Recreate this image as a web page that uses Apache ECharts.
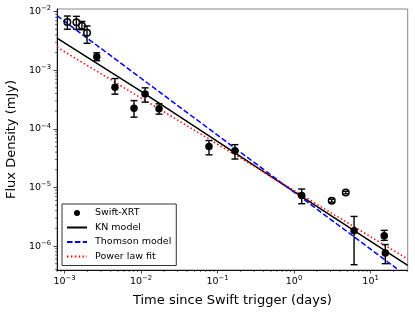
<!DOCTYPE html>
<html>
<head>
<meta charset="utf-8">
<script src="https://cdn.jsdelivr.net/npm/echarts@6/dist/echarts.min.js"></script>
<style>
html,body{margin:0;padding:0;background:#fff;}
#chart{width:415px;height:313px;}
</style>
</head>
<body>
<div id="chart"></div>
<script>
// ---- data ----
// Swift-XRT (filled): time (days), flux (mJy), lower, upper
const xrtTime  = [2.64e-3, 4.57e-3, 8.1e-3, 1.13e-2, 1.72e-2, 7.74e-2, 0.169, 1.26, 6.09, 15.1, 15.6];
const xrtFlux  = [1.70e-3, 5.1e-4, 2.25e-4, 3.94e-4, 2.19e-4, 5.0e-5, 4.22e-5, 7.3e-6, 1.83e-6, 1.5e-6, 7.6e-7];
const xrtLow   = [1.45e-3, 3.9e-4, 1.58e-4, 2.85e-4, 1.78e-4, 3.6e-5, 3.05e-5, 5.27e-6, 4.8e-7, 1.25e-6, 5.0e-7];
const xrtHigh  = [1.98e-3, 7.2e-4, 3.03e-4, 5.0e-4, 2.67e-4, 6.3e-5, 5.37e-5, 9.4e-6, 3.2e-6, 1.85e-6, 1.06e-6];
// open (excluded) points
const openTime = [1.09e-3, 1.43e-3, 1.69e-3, 1.97e-3, 3.11, 4.74];
const openFlux = [6.65e-3, 6.6e-3, 5.75e-3, 4.37e-3, 5.94e-6, 8.2e-6];
const openLow  = [5.0e-3, 5.0e-3, 4.9e-3, 2.88e-3, 5.6e-6, 7.8e-6];
const openHigh = [8.4e-3, 8.3e-3, 6.8e-3, 5.7e-3, 6.3e-6, 8.6e-6];
// model curves
const knTime   = [7.98e-4, 9.7e-3, 1.0, 30.6];
const knFlux   = [3.51e-3, 4.5e-4, 8.5e-6, 4.69e-7];
const thTime   = [7.98e-4, 22.0];
const thFlux   = [8.51e-3, 4.12e-7];
const plTime   = [7.98e-4, 30.6];
const plFlux   = [2.47e-3, 5.98e-7];
// axes
const xRange = [7.98e-4, 30.6];
const yRange = [3.9e-7, 1.107e-2];
const xTickExps = [-3, -2, -1, 0, 1];
const yTickExps = [-6, -5, -4, -3, -2];
const legendNames = ['Swift-XRT', 'KN model', 'Thomson model', 'Power law fit'];

// minor tick positions (2..9 x 10^n) inside the ranges
function minorTicks(r){
  const out=[];
  for(let e=-8;e<=3;e++){for(let m=2;m<=9;m++){const v=m*Math.pow(10,e); if(v>=r[0]&&v<=r[1]) out.push(v);}}
  return out;
}
const xMinor = minorTicks(xRange);
const yMinor = minorTicks(yRange);

function fmt(exps){
  return function(v){
    const e=Math.log10(v), r=Math.round(e);
    if(Math.abs(e-r)>1e-6 || exps.indexOf(r)<0) return '';
    return '{b|10}{s|'+(r<0?'\u2212':'')+Math.abs(r)+'}';
  };
}
const rich = {
  b:{fontSize:9.5, fontFamily:'DejaVu Sans', color:'#000'},
  s:{fontSize:6.8, fontFamily:'DejaVu Sans', color:'#000', padding:[0,0,6,0]}
};

function errRender(params, api){
  const x=api.value(0), lo=api.value(1), hi=api.value(2);
  const a=api.coord([x,lo]), b=api.coord([x,hi]);
  const w=3.5, st={stroke:'#000', lineWidth:1.4};
  return {type:'group', children:[
    {type:'line', shape:{x1:a[0],y1:a[1],x2:b[0],y2:b[1]}, style:st},
    {type:'line', shape:{x1:a[0]-w,y1:a[1],x2:a[0]+w,y2:a[1]}, style:st},
    {type:'line', shape:{x1:b[0]-w,y1:b[1],x2:b[0]+w,y2:b[1]}, style:st}
  ]};
}

const chart = echarts.init(document.getElementById('chart'), null, {renderer:'canvas'});
const lineLegend = (n)=>({name:n, itemStyle:{opacity:0, borderWidth:0}});
const option = {
  animation:false,
  textStyle:{fontFamily:'DejaVu Sans'},
  grid:{left:57, top:9, right:7.3, bottom:43, show:true, borderColor:'#888', borderWidth:1, backgroundColor:'transparent', outerBoundsMode:'none'},
  xAxis:{
    type:'log', logBase:10, min:xRange[0], max:xRange[1],
    name:'Time since Swift trigger (days)', nameLocation:'middle', nameGap:24,
    nameTextStyle:{fontSize:13, fontFamily:'DejaVu Sans', color:'#000'},
    axisLine:{show:true, lineStyle:{color:'#111', width:1}},
    axisTick:{show:true, inside:false, length:3.5, lineStyle:{color:'#111', width:0.8}},
    minorTick:{show:false},
    splitLine:{show:false},
    axisLabel:{margin:5, formatter:fmt(xTickExps), rich:rich, showMinLabel:false, showMaxLabel:false}
  },
  yAxis:{
    type:'log', logBase:10, min:yRange[0], max:yRange[1],
    name:'Flux Density (mJy)', nameLocation:'middle', nameGap:38.5, nameRotate:90,
    nameTextStyle:{fontSize:13, fontFamily:'DejaVu Sans', color:'#000'},
    axisLine:{show:true, lineStyle:{color:'#111', width:1}},
    axisTick:{show:true, inside:false, length:3.5, lineStyle:{color:'#111', width:0.8}},
    minorTick:{show:false},
    splitLine:{show:false},
    axisLabel:{margin:6, formatter:fmt(yTickExps), rich:rich, showMinLabel:false, showMaxLabel:false}
  },
  legend:{
    data:[{name:'Swift-XRT', icon:'circle', itemStyle:{opacity:1}}, lineLegend('KN model'), lineLegend('Thomson model'), lineLegend('Power law fit')],
    orient:'vertical', left:62, top:204,
    itemWidth:20, itemHeight:6, itemGap:4.5,
    padding:[4,5,4,4],
    borderColor:'#333', borderWidth:1, borderRadius:0, backgroundColor:'#fff',
    textStyle:{fontSize:9.5, fontFamily:'DejaVu Sans', color:'#000', padding:[0,0,0,3], lineHeight:9},
    selectedMode:false
  },
  series:[
    {type:'custom', name:'xminor', silent:true, clip:false, z:1,
     data:xMinor.map(v=>[v, yRange[0]]),
     renderItem:function(p,api){const c=api.coord([api.value(0),api.value(1)]);
       return {type:'line', shape:{x1:c[0],y1:c[1],x2:c[0],y2:c[1]+2}, style:{stroke:'#111', lineWidth:0.6}};}},
    {type:'custom', name:'yminor', silent:true, clip:false, z:1,
     data:yMinor.map(v=>[xRange[0], v]),
     renderItem:function(p,api){const c=api.coord([api.value(0),api.value(1)]);
       return {type:'line', shape:{x1:c[0]-2,y1:c[1],x2:c[0],y2:c[1]}, style:{stroke:'#111', lineWidth:0.6}};}},
    {type:'line', name:'KN model', data:knTime.map((t,i)=>[t,knFlux[i]]), showSymbol:false, symbol:'none',
     lineStyle:{color:'#000', width:1.5, type:'solid'}, itemStyle:{color:'#000'}, z:3, clip:true},
    {type:'line', name:'Thomson model', data:thTime.map((t,i)=>[t,thFlux[i]]), showSymbol:false, symbol:'none',
     lineStyle:{color:'#0000ff', width:1.5, type:[5.5,2.4]}, itemStyle:{color:'#0000ff'}, z:3, clip:true},
    {type:'line', name:'Power law fit', data:plTime.map((t,i)=>[t,plFlux[i]]), showSymbol:false, symbol:'none',
     lineStyle:{color:'#ff0000', width:1.5, type:[1.5,2.4]}, itemStyle:{color:'#ff0000'}, z:3, clip:true},
    {type:'custom', name:'xrtErr', silent:true, z:4,
     data:xrtTime.map((t,i)=>[t,xrtLow[i],xrtHigh[i]]), renderItem:errRender},
    {type:'custom', name:'openErr', silent:true, z:4,
     data:openTime.map((t,i)=>[t,openLow[i],openHigh[i]]), renderItem:errRender},
    {type:'scatter', name:'Swift-XRT', data:xrtTime.map((t,i)=>[t,xrtFlux[i]]), symbol:'circle', symbolSize:7.5,
     itemStyle:{color:'#000', opacity:1}, z:5},
    {type:'scatter', name:'open', data:openTime.map((t,i)=>[t,openFlux[i]]), symbol:'circle', symbolSize:6.5,
     itemStyle:{color:'rgba(0,0,0,0)', borderColor:'#000', borderWidth:1.5, opacity:1}, z:5}
  ]
};
chart.setOption(option);
</script>
</body>
</html>
